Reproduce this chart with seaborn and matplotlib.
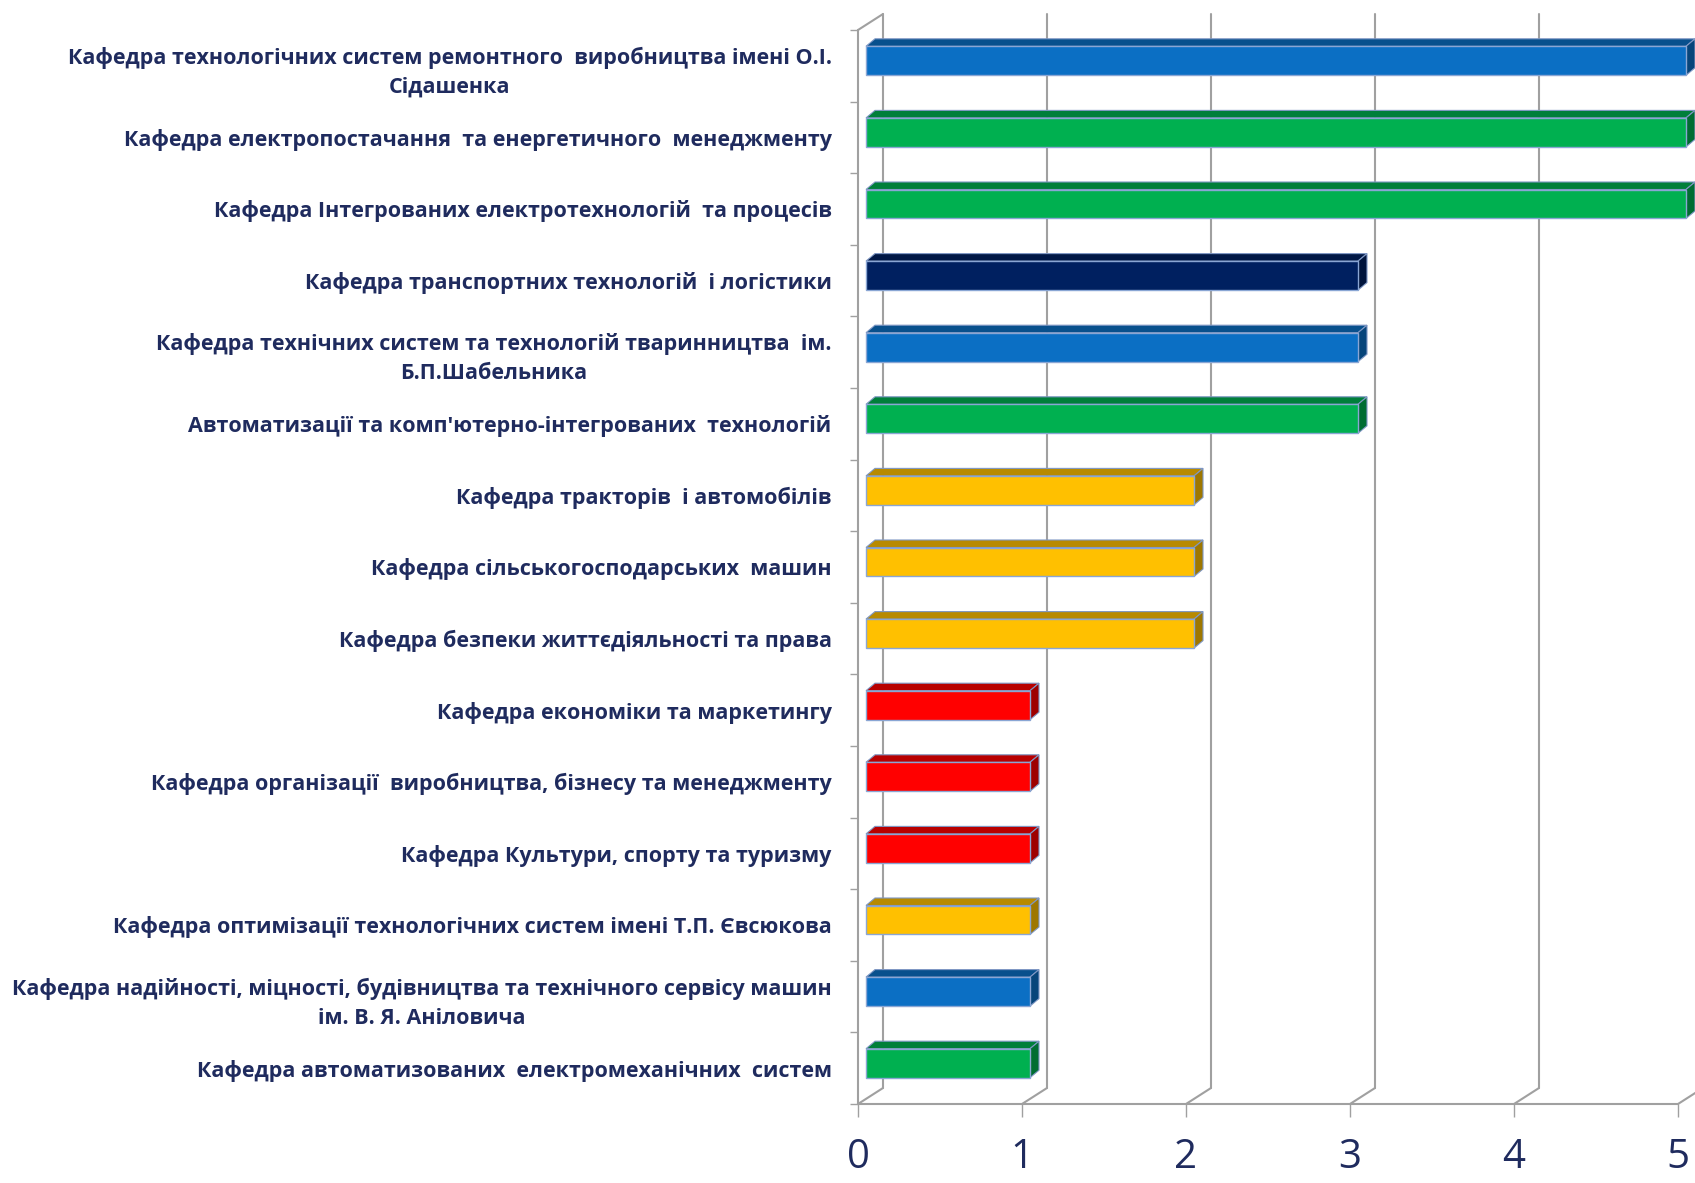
import matplotlib
matplotlib.use("Agg")
import matplotlib.pyplot as plt
import matplotlib.transforms as mtransforms
from matplotlib.patches import Polygon
from matplotlib.lines import Line2D
from matplotlib.colors import to_rgb
import numpy as np
import pandas as pd
import seaborn as sns

# ---- data -------------------------------------------------------------
departments = [
    "Кафедра технологічних систем ремонтного  виробництва імені О.І.\nСідашенка",
    "Кафедра електропостачання  та енергетичного  менеджменту",
    "Кафедра Інтегрованих електротехнологій  та процесів",
    "Кафедра транспортних технологій  і логістики",
    "Кафедра технічних систем та технологій тваринництва  ім.\nБ.П.Шабельника",
    "Автоматизації та комп'ютерно-інтегрованих  технологій",
    "Кафедра тракторів  і автомобілів",
    "Кафедра сільськогосподарських  машин",
    "Кафедра безпеки життєдіяльності та права",
    "Кафедра економіки та маркетингу",
    "Кафедра організації  виробництва, бізнесу та менеджменту",
    "Кафедра Культури, спорту та туризму",
    "Кафедра оптимізації технологічних систем імені Т.П. Євсюкова",
    "Кафедра надійності, міцності, будівництва та технічного сервісу машин\nім. В. Я. Аніловича",
    "Кафедра автоматизованих  електромеханічних  систем",
]
counts = [5, 5, 5, 3, 3, 3, 2, 2, 2, 1, 1, 1, 1, 1, 1]
x_ticks = [0, 1, 2, 3, 4, 5]

BLUE, GREEN, NAVY, GOLD, RED = "#0B6FC4", "#00B050", "#002060", "#FFC000", "#FF0000"
bar_colors = [BLUE, GREEN, GREEN, NAVY, BLUE, GREEN, GOLD, GOLD, GOLD,
              RED, RED, RED, GOLD, BLUE, GREEN]

# ---- styling ----------------------------------------------------------
sns.set_theme(style="white")
plt.rcParams["font.family"] = ["Open Sans", "DejaVu Sans"]

LABEL_COLOR = "#1F2B5E"
FRAME_COLOR = "#A0A0A0"
W, H = 1695, 1183

fig = plt.figure(figsize=(W / 100, H / 100), dpi=100)
fig.patch.set_facecolor("white")
ax = fig.add_axes([858 / W, 79 / H, 820 / W, 1074 / H])

df = pd.DataFrame({"department": departments, "count": counts})
sns.barplot(data=df, x="count", y="department", hue="department",
            palette=dict(zip(departments, bar_colors)), legend=False,
            orient="h", width=0.405, saturation=1, ax=ax,
            edgecolor="#8AA6D4", linewidth=1.0, zorder=3)

ax.set_xlim(0, 5)
ax.set_ylim(14.5, -0.5)
ax.set(xlabel="", ylabel="")
ax.set_facecolor("none")
for s in ax.spines.values():
    s.set_visible(False)

# pseudo-3D geometry (pixel offsets)
FRONT = np.array([8.0, 5.0])     # bar front face relative to front plane
DEPTH = np.array([9.0, 7.5])     # bar thickness
WALL = np.array([25.0, 16.0])    # back wall relative to front plane

front_tr = mtransforms.offset_copy(ax.transData, fig=fig, x=FRONT[0], y=FRONT[1], units="dots")
ident = mtransforms.IdentityTransform()
to_disp = ax.transData.transform


def shade(color, f):
    return tuple(np.clip(np.array(to_rgb(color)) * f, 0, 1))


# back wall grid lines, floor diagonals and left wall
frame_kw = dict(color=FRAME_COLOR, lw=1.5, zorder=0.5)
for v in x_ticks:
    p_front = to_disp((v, 14.5))
    p_top = to_disp((v, -0.5))
    ax.add_line(Line2D([p_front[0], p_front[0] + WALL[0]], [p_front[1], p_front[1] + WALL[1]],
                       transform=ident, clip_on=False, **frame_kw))
    ax.add_line(Line2D([p_front[0] + WALL[0], p_top[0] + WALL[0]],
                       [p_front[1] + WALL[1], p_top[1] + WALL[1]],
                       transform=ident, clip_on=False, **frame_kw))
ax.plot([0, 5], [14.5, 14.5], clip_on=False, **frame_kw)
ax.plot([0, 0], [14.5, -0.5], clip_on=False, **frame_kw)
p0 = to_disp((0, -0.5))
ax.add_line(Line2D([p0[0], p0[0] + WALL[0]], [p0[1], p0[1] + WALL[1]],
                   transform=ident, clip_on=False, **frame_kw))

# bars: shift front faces, add top and side faces
for patch in ax.patches[:]:
    color = patch.get_facecolor()
    patch.set_transform(front_tr)
    patch.set_clip_on(False)
    x0, y0 = patch.get_x(), patch.get_y()
    w, h = patch.get_width(), patch.get_height()
    ftl = to_disp((x0, y0)) + FRONT
    ftr = to_disp((x0 + w, y0)) + FRONT
    fbr = to_disp((x0 + w, y0 + h)) + FRONT
    top = Polygon([ftl, ftr, ftr + DEPTH, ftl + DEPTH], closed=True, transform=ident,
                  facecolor=shade(color[:3], 0.72), edgecolor="#7F97C4", lw=0.8,
                  clip_on=False, zorder=2.8)
    side = Polygon([ftr, fbr, fbr + DEPTH, ftr + DEPTH], closed=True, transform=ident,
                   facecolor=shade(color[:3], 0.62), edgecolor="#7F97C4", lw=0.8,
                   clip_on=False, zorder=2.8)
    ax.add_patch(top)
    ax.add_patch(side)

# ticks and labels
ax.set_xticks(x_ticks)
ax.set_xticklabels([str(v) for v in x_ticks])
ax.tick_params(axis="x", which="major", bottom=True, length=9, width=1.0,
               color=FRAME_COLOR, pad=15, labelsize=29, labelcolor=LABEL_COLOR)
ax.set_yticks(range(len(departments)))
ax.set_yticks(np.arange(-0.5, len(departments), 1.0), minor=True)
ax.tick_params(axis="y", which="major", left=True, length=0, pad=19)
ax.tick_params(axis="y", which="minor", left=True, length=6, width=1.0, color=FRAME_COLOR)
for t in ax.get_yticklabels():
    t.set_fontsize(15.5)
    t.set_fontweight("bold")
    t.set_color(LABEL_COLOR)
    t.set_multialignment("center")
    t.set_linespacing(1.5)
for t in ax.get_xticklabels():
    t.set_fontweight("normal")

fig.savefig("out.png", dpi=100, facecolor="white")
